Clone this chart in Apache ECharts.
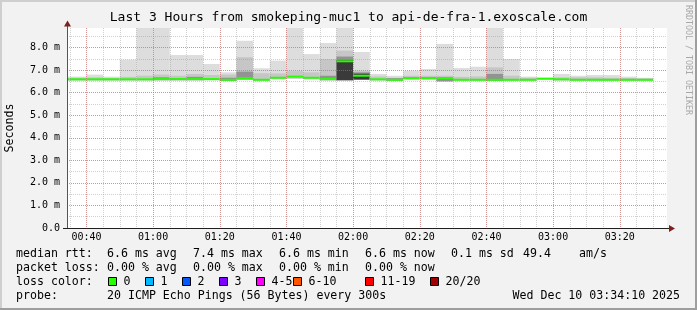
<!DOCTYPE html>
<html><head><meta charset="utf-8">
<script src="https://cdn.jsdelivr.net/npm/echarts@6/dist/echarts.min.js"></script>
<style>html,body{margin:0;padding:0;background:#f2f2f2}#c{width:697px;height:310px}</style>
</head><body><div id="c"></div>
<script>
// ---- data, values in ms ----
const startTimes = ['00:30','00:35','00:40','00:45','00:50','00:55','01:00','01:05','01:10','01:15','01:20','01:25',
  '01:30','01:35','01:40','01:45','01:50','01:55','02:00','02:05','02:10','02:15','02:20','02:25',
  '02:30','02:35','02:40','02:45','02:50','02:55','03:00','03:05','03:10','03:15','03:20','03:25'];
const smokeMin   = [6.54,6.54,6.54,6.54,6.54,6.54,6.55,6.55,6.55,6.55,6.53,6.58,
  6.53,6.60,6.62,6.60,6.55,6.55,6.58,6.54,6.53,6.58,6.58,6.50,
  6.53,6.53,6.53,6.53,6.53,6.58,6.54,6.53,6.53,6.53,6.53,6.53];
const smokeMax   = [6.71,6.71,6.80,6.71,7.46,9.00,9.00,7.67,7.67,7.27,6.90,8.30,
  7.08,7.42,9.00,7.71,8.20,9.00,7.80,6.83,6.75,6.97,7.05,8.16,
  7.09,7.15,9.00,7.49,6.71,6.66,6.83,6.75,6.78,6.78,6.71,6.66];
const smokeUpper = [6.65,6.66,6.68,6.65,6.70,6.75,6.80,6.75,6.83,6.78,6.80,7.57,
  6.86,6.85,6.95,6.90,7.49,7.86,6.97,6.72,6.66,6.75,6.75,6.75,
  6.70,6.72,7.12,6.75,6.66,6.63,6.68,6.68,6.68,6.66,6.65,6.63];
const smokeDark  = [null,null,null,null,null,null,6.68,6.64,6.70,null,6.66,6.93,
  null,null,null,null,6.75,7.60,6.90,null,6.64,null,null,6.62,
  null,null,6.83,null,null,null,null,null,null,null,null,null];
const smokeCore  = [null,null,null,null,null,null,null,null,null,null,null,null,
  null,null,null,null,null,7.45,6.84,null,null,null,null,null,
  null,null,null,null,null,null,null,null,null,null,null,null];
const medianRtt  = [6.59,6.59,6.59,6.59,6.59,6.59,6.60,6.60,6.60,6.60,6.57,6.65,
  6.57,6.66,6.71,6.66,6.60,7.39,6.75,6.59,6.57,6.65,6.65,6.65,
  6.57,6.57,6.57,6.57,6.57,6.62,6.59,6.57,6.57,6.57,6.57,6.57];
const STEP_MIN = 5;                    // probe step 300 s
const X_MIN = '00:34:10', X_MAX = '03:34:10';
const Y_MAX = 8.865;

const titleText = 'Last 3 Hours from smokeping-muc1 to api-de-fra-1.exoscale.com';
const rttParts  = ['median rtt:','6.6 ms avg','7.4 ms max','6.6 ms min','6.6 ms now','0.1 ms sd','49.4','am/s'];
const lossParts = ['packet loss:','0.00 % avg','0.00 % max','0.00 % min','0.00 % now'];
const lossLabels = ['0','1','2','3','4-5','6-10','11-19','20/20'];
const lossColors = ['#26ff00','#00b8ff','#0059ff','#7e00ff','#ff00ff','#ff5500','#ff0000','#a10000'];
const probeParts = ['probe:','20 ICMP Echo Pings (56 Bytes) every 300s','Wed Dec 10 03:34:10 2025'];

// ---- helpers ----
function toMin(s){ const p = s.split(':').map(Number); return p[0]*60 + p[1] + (p[2]||0)/60; }
function fmtMin(v){ const h = Math.floor(v/60), m = Math.round(v - h*60); return String(h).padStart(2,'0')+':'+String(m).padStart(2,'0'); }

const rows = startTimes.map((t,i)=>{ const s = toMin(t);
  return [s, s+STEP_MIN, smokeMin[i], smokeMax[i], smokeUpper[i], smokeDark[i], smokeCore[i], medianRtt[i]]; });

const FONT = '"DejaVu Sans Mono", monospace';
const chart = echarts.init(document.getElementById('c'), null, {renderer:'canvas'});

function renderSmoke(params, api){
  const cs = params.coordSys;
  const clip = {x: cs.x, y: cs.y, width: cs.width, height: cs.height};
  const x0 = api.value(0), x1 = api.value(1), lo = api.value(2);
  const layers = [[api.value(3),'#dddddd'],[api.value(4),'#c6c6c6'],[api.value(5),'#939393'],[api.value(6),'#3a3a3a']];
  const children = [];
  layers.forEach(([top,color])=>{
    if(!isFinite(top)) return;
    const a = api.coord([x0, top]), b = api.coord([x1, lo]);
    const r = echarts.graphic.clipRectByRect({x:a[0], y:a[1], width:b[0]-a[0], height:b[1]-a[1]}, clip);
    if(r) children.push({type:'rect', shape:r, style:{fill:color}});
  });
  const med = api.value(7);
  const m0 = api.coord([x0, med]), m1 = api.coord([x1, med]);
  const mr = echarts.graphic.clipRectByRect({x:m0[0], y:m0[1]-1, width:m1[0]-m0[0], height:2}, clip);
  if(mr) children.push({type:'rect', shape:mr, style:{fill:lossColors[0]}});
  return {type:'group', children};
}

const GRID_GRAY = 'rgba(143,143,143,0.42)';
const GRID_RED = 'rgba(222,79,79,0.45)';
const txt = (x,y,text,extra)=>Object.assign({type:'text', x, y, silent:true,
  style: Object.assign({text, font:'11.6px '+FONT, fill:'#000', textAlign:'left', textVerticalAlign:'middle', align:'left', verticalAlign:'middle'}, extra||{})});

const graphics = [];
// frame
graphics.push({type:'rect', shape:{x:0,y:0,width:697,height:2}, style:{fill:'#cfcfcf'}, silent:true});
graphics.push({type:'rect', shape:{x:0,y:0,width:2,height:310}, style:{fill:'#cfcfcf'}, silent:true});
graphics.push({type:'rect', shape:{x:0,y:308,width:697,height:2}, style:{fill:'#9e9e9e'}, silent:true});
graphics.push({type:'rect', shape:{x:695,y:0,width:2,height:310}, style:{fill:'#9e9e9e'}, silent:true});
// title and watermark
graphics.push(txt(348.5, 18, titleText, {font:'13px '+FONT, textAlign:'center', align:'center'}));
graphics.push(Object.assign(txt(688, 60, 'RRDTOOL / TOBI OETIKER', {font:'8.3px '+FONT, fill:'#a8a8a8', textAlign:'center', align:'center'}), {rotation:-Math.PI/2}));
// axis extensions and arrows
graphics.push({type:'line', shape:{x1:67.5,y1:28,x2:67.5,y2:25}, style:{stroke:'#555',lineWidth:1}, silent:true});
graphics.push({type:'polygon', shape:{points:[[67.5,20.5],[64,26.5],[71,26.5]]}, style:{fill:'#801f1f'}, silent:true});
graphics.push({type:'line', shape:{x1:63,y1:228.5,x2:67,y2:228.5}, style:{stroke:'#1f1f1f',lineWidth:1}, silent:true});
graphics.push({type:'line', shape:{x1:667,y1:228.5,x2:670,y2:228.5}, style:{stroke:'#1f1f1f',lineWidth:1}, silent:true});
graphics.push({type:'polygon', shape:{points:[[675,228.5],[669,225],[669,232]]}, style:{fill:'#801f1f'}, silent:true});
// legend lines
const rttX = [16,107,193,279,365,451,523,579];
rttParts.forEach((t,i)=>graphics.push(txt(rttX[i], 253.5, t)));
const lossX = [16,107,193,279,365];
lossParts.forEach((t,i)=>graphics.push(txt(lossX[i], 267.5, t)));
graphics.push(txt(16, 281.5, 'loss color:'));
const boxX = [108,145,182,219,256,293,365,430];
lossLabels.forEach((t,i)=>{
  graphics.push({type:'rect', shape:{x:boxX[i]+0.5,y:277.5,width:8,height:8}, style:{fill:lossColors[i], stroke:'#000', lineWidth:1}, silent:true});
  graphics.push(txt(boxX[i]+15.5, 281.5, t));
});
const probeX = [16,107,512.5];
probeParts.forEach((t,i)=>graphics.push(txt(probeX[i], 295.5, t)));

const xCommon = {type:'value', min: toMin(X_MIN), max: toMin(X_MAX), gridIndex:0};
const yCommon = {type:'value', min: 0, max: Y_MAX, gridIndex:0};

chart.setOption({
  animation:false,
  backgroundColor:'#f2f2f2',
  grid:{left:67, right:30, top:28, bottom:82, show:true, backgroundColor:'#ffffff', borderWidth:0,
    containLabel:false, outerBoundsMode:'none'},
  xAxis:[
    Object.assign({}, xCommon, {position:'top', minInterval:5, maxInterval:5, z:3,
      axisLine:{show:false}, axisTick:{show:false}, axisLabel:{show:false},
      splitLine:{show:true, showMinLine:false, showMaxLine:false, lineStyle:{color:GRID_GRAY, type:[1,1], width:1}}}),
    Object.assign({}, xCommon, {position:'bottom', minInterval:20, maxInterval:20, z:4,
      axisLine:{show:true, onZero:false, lineStyle:{color:'#1f1f1f', width:1}}, axisTick:{show:false},
      axisLabel:{show:true, margin:4, interval:0, showMinLabel:false, showMaxLabel:false, color:'#000', fontFamily:FONT, fontSize:10,
        formatter:v=>fmtMin(v)},
      splitLine:{show:true, showMinLine:false, showMaxLine:false, lineStyle:{color:GRID_RED, type:[1,1], width:1}}})
  ],
  yAxis:[
    Object.assign({}, yCommon, {position:'right', interval:0.5, z:3,
      axisLine:{show:false}, axisTick:{show:false}, axisLabel:{show:false},
      splitLine:{show:true, showMinLine:false, showMaxLine:false, lineStyle:{color:GRID_GRAY, type:[1,1], width:1}}}),
    Object.assign({}, yCommon, {position:'left', interval:1, z:4,
      name:'Seconds', nameLocation:'middle', nameRotate:90, nameGap:51,
      nameTextStyle:{color:'#000', fontFamily:FONT, fontSize:11.6},
      axisLine:{show:true, onZero:false, lineStyle:{color:'#555', width:1}}, axisTick:{show:false},
      axisLabel:{show:true, margin:7, color:'#000', fontFamily:FONT, fontSize:10, showMaxLabel:false,
        formatter:v=> v===0 ? '0.0' : v.toFixed(1)+' m'},
      splitLine:{show:true, showMinLine:false, showMaxLine:false, lineStyle:{color:GRID_RED, type:[1,1], width:1}}})
  ],
  series:[{
    type:'custom', name:'smoke', xAxisIndex:1, yAxisIndex:1, z:2,
    renderItem: renderSmoke,
    encode:{x:[0,1], y:[2,3]},
    data: rows
  }],
  graphic: graphics
});
</script>
</body></html>
